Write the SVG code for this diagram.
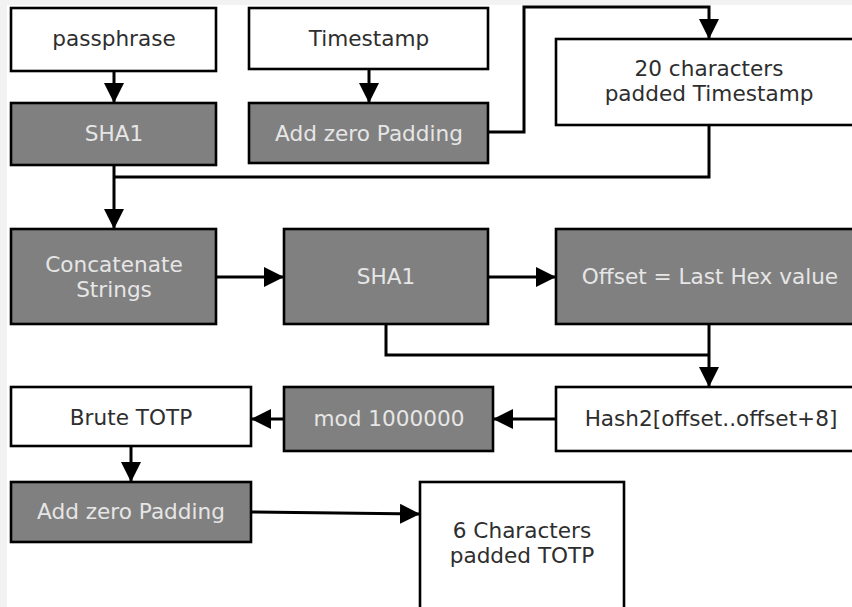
<svg xmlns="http://www.w3.org/2000/svg" width="852" height="607" viewBox="0 0 852 607">
<defs>
<marker id="ah" markerUnits="userSpaceOnUse" markerWidth="20" markerHeight="20" viewBox="0 0 20 20" refX="20" refY="10" orient="auto">
<path d="M0,0 L20,10 L0,20 z" fill="#000"/>
</marker>
<style>
.w{fill:#fff;stroke:#000;stroke-width:2.6}
.g{fill:#808080;stroke:#000;stroke-width:2.6}
text{font-family:"DejaVu Sans","Liberation Sans",sans-serif;font-size:21.6px;text-anchor:middle}
.tw{fill:#2e2e2e}
.tg{fill:#e6e6e6}
.c{fill:none;stroke:#000;stroke-width:3}
.a{marker-end:url(#ah)}
</style>
</defs>
<rect x="0" y="0" width="852" height="607" fill="#f2f2f2"/>
<rect x="7" y="5" width="845" height="602" fill="#fff"/>

<g id="connectors">
<path class="c a" d="M114,71 V103"/>
<path class="c a" d="M369,69 V103"/>
<path class="c a" d="M488,132 H524 V7 H709 V39"/>
<path class="c a" d="M114,165 V229"/>
<path class="c" d="M709,125 V177 H114"/>
<path class="c a" d="M216,277 H284"/>
<path class="c a" d="M488,277 H556"/>
<path class="c" d="M386,324 V355 H709"/>
<path class="c a" d="M709,324 V387"/>
<path class="c a" d="M556,419 H493"/>
<path class="c a" d="M284,419 H251"/>
<path class="c a" d="M131,446 V482"/>
<path class="c a" d="M251,512 L420,514"/>
</g>

<g id="passphrase"><rect class="w" x="11" y="8" width="205" height="63"/><text class="tw" x="114" y="46">passphrase</text></g>
<g id="timestamp"><rect class="w" x="249" y="8" width="239" height="61"/><text class="tw" x="369" y="46">Timestamp</text></g>
<g id="padded-timestamp"><rect class="w" x="556" y="39" width="310" height="86"/><text class="tw" x="709" y="76">20 characters</text><text class="tw" x="709" y="101">padded Timestamp</text></g>
<g id="sha1-a"><rect class="g" x="11" y="103" width="205" height="62"/><text class="tg" x="114" y="141">SHA1</text></g>
<g id="add-zero-padding-a"><rect class="g" x="249" y="103" width="239" height="60"/><text class="tg" x="369" y="141">Add zero Padding</text></g>
<g id="concatenate"><rect class="g" x="11" y="229" width="205" height="95"/><text class="tg" x="114" y="272">Concatenate</text><text class="tg" x="114" y="297">Strings</text></g>
<g id="sha1-b"><rect class="g" x="284" y="229" width="204" height="95"/><text class="tg" x="386" y="284">SHA1</text></g>
<g id="offset"><rect class="g" x="556" y="229" width="310" height="95"/><text class="tg" x="710" y="284">Offset = Last Hex value</text></g>
<g id="brute-totp"><rect class="w" x="11" y="387" width="240" height="59"/><text class="tw" x="131" y="425">Brute TOTP</text></g>
<g id="mod"><rect class="g" x="284" y="387" width="209" height="64"/><text class="tg" x="389" y="426">mod 1000000</text></g>
<g id="hash2"><rect class="w" x="556" y="387" width="310" height="64"/><text class="tw" x="711" y="426">Hash2[offset..offset+8]</text></g>
<g id="add-zero-padding-b"><rect class="g" x="11" y="482" width="240" height="60"/><text class="tg" x="131" y="519">Add zero Padding</text></g>
<g id="six-characters"><rect class="w" x="420" y="482" width="204" height="130"/><text class="tw" x="522" y="538">6 Characters</text><text class="tw" x="522" y="563">padded TOTP</text></g>
</svg>
